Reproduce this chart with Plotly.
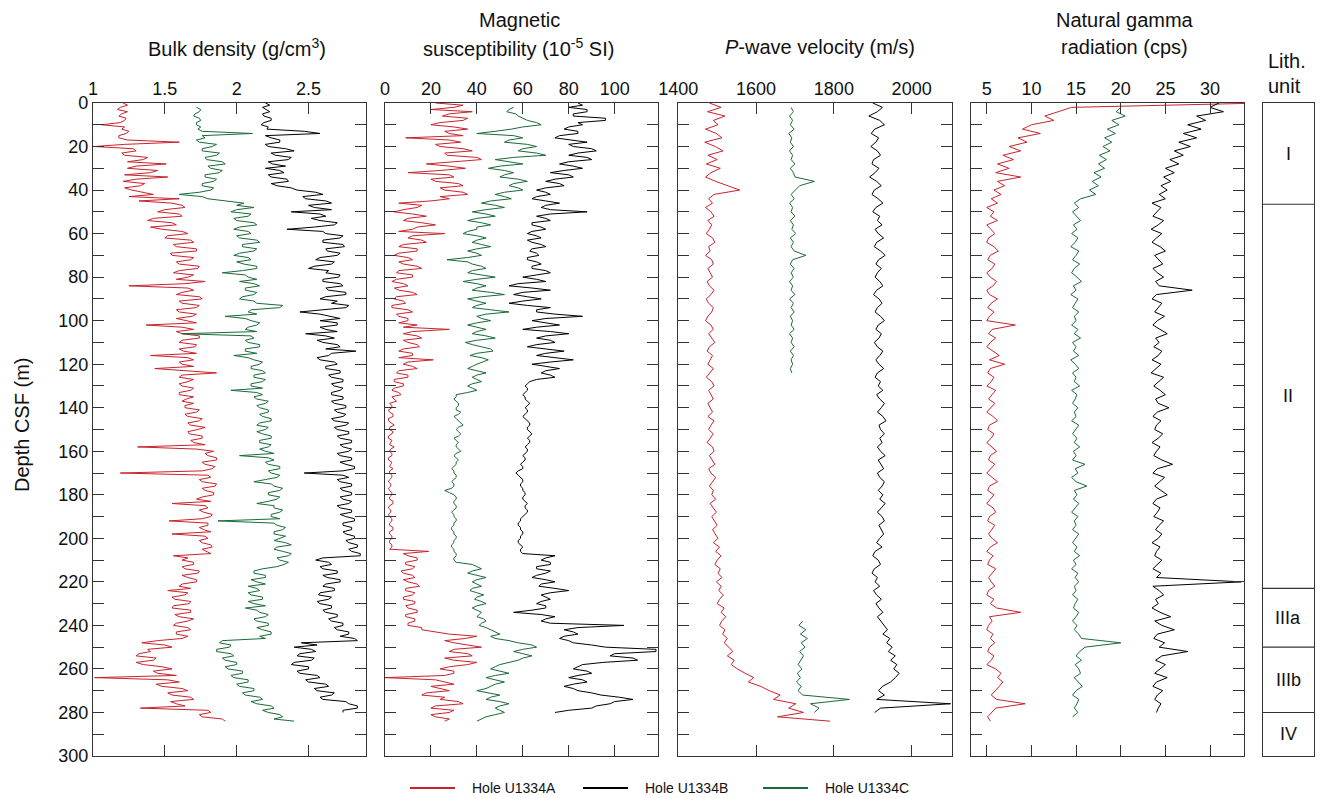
import plotly.graph_objects as go

W, H = 1320, 798

RED, BLACK, GREEN = '#c8232c', '#000000', '#1a6a38'
FONT = 'Liberation Sans, Arial, Helvetica, sans-serif'
AX = '#333333'

# ---------------- Bulk density (g/cm3), sampled every 1 m ----------------
dens_A_start, dens_A_step = 0, 1
dens_A = [1.21,1.24,1.19,1.17,1.24,1.20,1.18,1.23,1.22,1.19,
          1.06,1.22,1.20,1.25,1.23,1.18,1.18,1.24,1.60,1.22,
          1.01,1.28,1.30,1.20,1.22,1.38,1.35,1.24,1.51,1.30,
          1.24,1.45,1.40,1.22,1.52,1.30,1.21,1.36,1.33,1.22,
          1.27,1.36,1.42,1.25,1.60,1.32,1.55,1.62,1.64,1.50,
          1.45,1.60,1.62,1.42,1.38,1.55,1.58,1.40,1.48,1.62,
          1.66,1.52,1.50,1.68,1.70,1.56,1.58,1.72,1.72,1.54,
          1.55,1.70,1.68,1.58,1.60,1.74,1.73,1.60,1.56,1.70,
          1.66,1.58,1.78,1.64,1.25,1.66,1.70,1.62,1.58,1.74,
          1.76,1.60,1.62,1.74,1.72,1.58,1.60,1.72,1.69,1.58,
          1.64,1.72,1.37,1.62,1.70,1.58,1.62,1.74,1.74,1.62,
          1.60,1.72,1.71,1.60,1.63,1.72,1.40,1.66,1.70,1.60,
          1.62,1.70,1.43,1.64,1.86,1.62,1.60,1.70,1.66,1.60,
          1.62,1.70,1.68,1.60,1.60,1.70,1.65,1.62,1.70,1.64,
          1.64,1.74,1.72,1.64,1.66,1.76,1.74,1.66,1.68,1.78,
          1.73,1.66,1.67,1.76,1.76,1.68,1.70,1.78,1.31,1.72,
          1.84,1.78,1.80,1.86,1.86,1.76,1.78,1.85,1.83,1.76,
          1.19,1.80,1.82,1.74,1.76,1.86,1.85,1.76,1.78,1.84,
          1.84,1.76,1.72,1.82,1.55,1.78,1.80,1.74,1.77,1.83,
          1.82,1.76,1.53,1.80,1.80,1.74,1.77,1.82,1.55,1.78,
          1.80,1.74,1.76,1.82,1.83,1.76,1.79,1.82,1.56,1.66,
          1.62,1.70,1.70,1.62,1.64,1.74,1.73,1.62,1.66,1.72,
          1.72,1.62,1.60,1.68,1.52,1.66,1.64,1.55,1.57,1.68,
          1.67,1.56,1.55,1.68,1.68,1.57,1.60,1.70,1.66,1.58,
          1.56,1.66,1.68,1.58,1.58,1.66,1.62,1.45,1.34,1.50,
          1.55,1.38,1.40,1.32,1.30,1.44,1.42,1.30,1.35,1.48,
          1.55,1.42,1.45,1.58,1.01,1.52,1.60,1.44,1.48,1.62,
          1.66,1.52,1.55,1.68,1.70,1.54,1.58,1.64,1.33,1.80,
          1.82,1.74,1.76,1.90,1.92]
dens_B_start, dens_B_step = 0, 1
dens_B = [2.20,2.23,2.18,2.21,2.23,2.18,2.19,2.24,2.24,2.19,
          2.17,2.22,2.21,2.47,2.58,2.20,2.24,2.30,2.30,2.20,
          2.22,2.34,2.40,2.24,2.27,2.38,2.36,2.22,2.25,2.34,
          2.20,2.30,2.33,2.22,2.24,2.35,2.36,2.24,2.28,2.38,
          2.42,2.55,2.60,2.46,2.48,2.62,2.66,2.50,2.54,2.66,
          2.38,2.58,2.62,2.52,2.58,2.70,2.68,2.54,2.35,2.60,
          2.62,2.74,2.72,2.60,2.60,2.74,2.75,2.62,2.63,2.72,
          2.70,2.58,2.55,2.68,2.66,2.54,2.50,2.64,2.62,2.72,
          2.71,2.60,2.60,2.72,2.74,2.62,2.64,2.76,2.76,2.62,
          2.58,2.70,2.66,2.78,2.76,2.60,2.44,2.58,2.64,2.72,
          2.58,2.70,2.70,2.58,2.62,2.70,2.48,2.62,2.68,2.56,
          2.60,2.70,2.72,2.62,2.83,2.66,2.64,2.56,2.58,2.68,
          2.70,2.62,2.62,2.72,2.72,2.64,2.66,2.74,2.74,2.66,
          2.68,2.74,2.72,2.66,2.66,2.74,2.74,2.66,2.68,2.76,
          2.76,2.68,2.70,2.76,2.74,2.66,2.68,2.78,2.76,2.68,
          2.70,2.78,2.78,2.70,2.72,2.80,2.80,2.72,2.74,2.80,
          2.78,2.70,2.72,2.80,2.80,2.72,2.76,2.82,2.82,2.74,
          2.47,2.74,2.78,2.70,2.72,2.80,2.80,2.72,2.74,2.80,
          2.80,2.72,2.74,2.80,2.78,2.70,2.72,2.80,2.80,2.72,
          2.76,2.82,2.82,2.74,2.74,2.80,2.80,2.74,2.76,2.82,
          2.82,2.76,2.78,2.84,2.84,2.78,2.80,2.86,2.86,2.60,
          2.55,2.64,2.66,2.58,2.60,2.70,2.70,2.60,2.63,2.72,
          2.72,2.62,2.60,2.68,2.68,2.58,2.57,2.66,2.64,2.56,
          2.58,2.66,2.66,2.60,2.62,2.70,2.70,2.64,2.66,2.74,
          2.74,2.68,2.70,2.78,2.78,2.72,2.82,2.84,2.45,2.56,
          2.40,2.52,2.55,2.44,2.42,2.54,2.52,2.40,2.38,2.50,
          2.50,2.42,2.44,2.56,2.58,2.48,2.50,2.62,2.64,2.54,
          2.56,2.68,2.66,2.58,2.60,2.76,2.78,2.84,2.84,2.74,
          2.74]
dens_C_start, dens_C_step = 2, 1
dens_C = [1.72,1.75,1.74,1.71,1.70,1.74,1.75,1.72,1.72,1.75,
          1.73,1.76,2.11,1.76,1.78,1.72,1.74,1.86,1.83,1.76,
          1.76,1.88,1.86,1.78,1.79,1.90,1.92,1.80,1.82,1.90,
          1.88,1.78,1.78,1.86,1.84,1.76,1.76,1.84,1.82,1.74,
          1.60,1.76,1.80,1.95,2.05,2.00,2.12,2.00,1.96,2.10,
          2.08,1.98,2.00,2.12,2.14,2.02,1.98,2.08,2.10,2.00,
          2.02,2.14,2.16,2.04,2.04,2.14,2.12,2.02,1.98,2.08,
          2.10,2.00,2.05,2.14,2.14,2.04,1.90,2.06,2.08,2.14,
          2.02,2.12,2.16,2.06,2.06,2.14,2.12,2.04,2.02,2.12,
          2.14,2.32,2.30,2.10,2.08,2.14,1.92,2.06,2.10,2.16,
          2.14,2.08,2.06,2.14,1.62,2.10,2.12,2.06,2.08,2.16,
          2.16,2.06,2.06,2.14,1.98,2.08,2.12,2.18,2.16,2.10,
          2.10,2.18,2.20,2.12,2.12,2.20,2.18,2.10,2.10,2.18,
          1.96,2.14,2.18,2.12,2.14,2.22,2.20,2.14,2.16,2.22,
          2.22,2.16,2.18,2.24,2.24,2.16,2.14,2.22,2.20,2.14,
          2.18,2.24,2.24,2.16,2.16,2.24,2.22,2.16,2.20,2.26,
          2.02,2.22,2.26,2.20,2.22,2.30,2.30,2.22,2.24,2.30,
          2.28,2.20,2.12,2.24,2.26,2.32,2.30,2.22,2.22,2.30,
          2.28,2.22,2.14,2.26,2.26,2.32,2.30,2.24,2.24,2.30,
          1.87,2.26,2.28,2.34,2.32,2.26,2.26,2.34,2.30,2.26,
          2.34,2.38,2.28,2.26,2.32,2.38,2.36,2.28,2.30,2.36,
          2.33,2.28,2.18,2.12,2.12,2.20,2.20,2.10,2.14,2.20,
          2.08,2.14,2.16,2.08,2.10,2.18,2.18,2.08,2.12,2.20,
          2.06,2.14,2.16,2.22,2.20,2.12,2.14,2.22,2.22,2.14,
          2.18,2.24,2.24,2.16,2.20,1.90,1.88,1.96,1.95,1.86,
          1.86,1.96,1.98,1.90,1.92,2.00,2.00,1.92,1.94,2.04,
          2.04,1.96,1.98,2.08,2.08,2.00,2.02,2.12,2.12,2.04,
          2.06,2.16,2.18,2.10,2.14,2.24,2.26,2.18,2.22,2.30,
          2.32,2.26,2.40]

# ---------------- Magnetic susceptibility (1e-5 SI), every 1 m ----------------
ms_A_start, ms_A_step = 0, 1
ms_A = [22,34,30,20,38,28,25,36,34,24,
        20,30,36,26,28,34,9,28,33,22,
        24,34,38,26,27,40,42,30,18,28,
        35,24,10,28,30,20,22,32,34,24,
        26,34,36,24,28,20,6,16,14,8,
        4,12,18,10,8,16,22,14,12,6,
        26,12,10,16,18,8,6,14,14,6,
        4,10,12,6,8,14,16,6,5,12,
        12,5,3,8,10,4,6,12,14,5,
        4,8,9,3,3,10,12,5,6,10,
        10,6,14,8,28,12,8,14,16,8,
        10,14,15,8,6,12,12,6,21,10,
        8,12,14,6,5,10,10,4,4,8,
        8,4,3,6,7,3,4,5,2,3,
        3,1.5,2,3.5,3.5,1.5,1.5,3,4,2,
        2,3.5,3,1.5,1.5,3,2.5,2,4,2.5,
        2,3,3,1.5,1.5,3,2.5,2,3.5,2,
        2,3,3,2,1.5,2.5,2.5,1.5,2,3,
        3,2,2,3.5,3.5,2,1.5,2.5,2.5,1.5,
        2,3,3,2,2,3.5,3.5,2,2,3,
        3,2,2,3,3,2,19,8,10,14,
        14,9,9,13,12,7,8,12,13,8,
        10,14,15,9,9,13,12,8,8,13,
        13,9,10,14,14,9,9,13,13,10,
        10,16,16,22,28,40,35,26,30,36,
        42,30,28,36,38,26,30,40,36,28,
        24,30,30,26,0,22,26,30,20,24,
        28,18,16,26,24,32,34,22,20,30,
        28,20,22,28,26]
ms_B_start, ms_B_step = 0, 1
ms_B = [84,86,80,88,88,82,82,96,96,84,
        86,80,78,84,84,76,74,82,88,80,
        82,90,92,84,80,88,90,80,76,82,
        86,78,72,80,82,74,70,76,78,70,
        66,70,72,66,64,70,76,70,68,72,
        88,72,66,70,72,64,64,68,70,64,
        62,66,68,62,64,68,70,64,63,66,
        67,62,62,66,68,64,64,70,72,66,
        60,66,70,58,54,64,72,60,56,62,
        68,60,54,62,72,66,66,74,86,70,
        64,70,76,66,60,72,80,70,66,72,
        74,66,62,70,78,70,66,74,82,72,
        64,70,76,70,68,72,74,66,63,62,
        61,62,62,61,60,61,61,62,63,62,
        61,62,62,61,60,61,62,63,63,62,
        62,63,64,63,62,63,63,62,61,62,
        62,61,60,61,61,60,59,60,60,58,
        57,58,59,60,60,59,59,60,60,61,
        61,60,60,61,62,61,61,62,62,61,
        60,59,59,58,58,59,59,60,60,59,
        59,58,58,59,60,59,59,60,74,70,
        68,72,72,66,66,72,70,66,64,70,
        74,68,67,74,80,72,68,70,72,68,
        66,70,70,64,56,68,74,70,68,72,
        104,84,78,82,84,78,76,80,82,90,
        96,118,118,100,98,108,110,95,86,84,
        82,88,90,84,80,86,88,82,78,82,
        84,90,94,102,108,100,98,92,90,80,
        74]
ms_C_start, ms_C_step = 2, 1
ms_C = [56,54,53,57,58,60,62,66,68,60,
        55,48,40,56,60,54,52,62,66,60,
        58,66,70,56,48,54,60,50,45,52,
        56,52,50,58,62,56,54,58,60,52,
        48,52,55,46,42,48,52,44,38,44,
        48,40,36,42,46,40,40,36,34,40,
        44,40,38,42,46,40,36,40,42,36,
        27,36,38,42,44,38,36,42,48,40,
        34,40,44,40,38,46,52,42,36,40,
        44,40,38,46,54,44,40,42,46,40,
        36,40,44,40,38,44,48,40,35,38,
        42,46,47,40,37,42,45,42,40,38,
        36,40,44,40,38,40,42,38,36,38,
        40,36,31,31,30,31,32,32,31,31,
        33,32,30,31,32,33,34,32,31,32,
        33,32,30,31,32,31,31,32,33,31,
        30,31,32,31,31,30,29,30,30,31,
        31,30,29,30,30,29,26,28,30,31,
        31,30,30,31,31,30,29,30,30,31,
        31,30,30,29,29,30,30,31,31,30,
        30,29,29,30,30,31,31,30,30,31,
        38,40,42,38,36,40,44,40,38,40,
        42,38,37,40,43,40,39,42,44,40,
        38,40,42,41,40,43,44,42,41,44,
        46,48,50,46,48,54,58,64,66,60,
        56,60,64,60,58,54,50,48,46,50,
        54,48,44,48,52,48,46,44,40,46,
        50,46,44,50,54,50,48,50,52,48,
        44,42,40]

# ---------------- P-wave velocity (m/s), every 2 m ----------------
pw_A_start, pw_A_step = 0, 2
pw_A = [1480,1510,1475,1520,1490,1502,1470,1498,1512,1468,
        1495,1515,1476,1500,1472,1508,1484,1470,1496,1528,
        1558,1492,1478,1488,1470,1484,1492,1476,1486,1480,
        1472,1488,1494,1478,1482,1470,1486,1490,1476,1482,
        1488,1474,1480,1492,1484,1472,1478,1490,1486,1476,
        1470,1484,1490,1478,1486,1494,1480,1474,1488,1482,
        1476,1490,1482,1472,1486,1492,1478,1484,1490,1476,
        1482,1488,1476,1492,1484,1478,1490,1482,1474,1488,
        1492,1480,1486,1494,1478,1484,1496,1488,1480,1490,
        1486,1496,1482,1490,1498,1486,1492,1500,1488,1494,
        1502,1490,1506,1496,1510,1500,1494,1508,1502,1512,
        1498,1510,1504,1516,1506,1500,1518,1510,1522,1512,
        1506,1520,1514,1526,1518,1530,1540,1526,1544,1536,
        1552,1572,1594,1580,1612,1634,1662,1645,1702,1684,
        1722,1655,1790]
pw_B_start, pw_B_step = 0, 2
pw_B = [1900,1925,1912,1890,1918,1930,1905,1896,1915,1908,
        1895,1912,1920,1902,1898,1916,1906,1892,1910,1922,
        1904,1898,1914,1926,1908,1900,1918,1912,1924,1906,
        1914,1928,1910,1904,1920,1932,1915,1908,1922,1912,
        1906,1918,1926,1910,1902,1916,1924,1912,1906,1920,
        1930,1914,1908,1922,1916,1904,1912,1926,1918,1908,
        1916,1928,1912,1906,1920,1914,1926,1910,1918,1930,
        1922,1912,1926,1934,1916,1920,1930,1918,1924,1912,
        1920,1932,1914,1922,1928,1912,1918,1930,1924,1914,
        1926,1918,1932,1922,1912,1924,1930,1916,1922,1928,
        1918,1910,1924,1906,1900,1914,1920,1904,1898,1912,
        1906,1918,1902,1910,1922,1908,1916,1926,1912,1920,
        1930,1938,1926,1944,1936,1950,1940,1958,1946,1962,
        1954,1968,1958,1946,1925,1915,1930,1910,2100,1920,
        1905]
pw_C_start, pw_C_step = 2, 2
pw_C = [1690,1696,1686,1694,1688,1698,1684,1692,1688,1696,
        1686,1694,1690,1700,1688,1696,1700,1750,1712,1700,
        1690,1698,1686,1694,1690,1700,1688,1696,1692,1702,
        1688,1696,1690,1698,1728,1694,1688,1698,1690,1696,
        1686,1694,1690,1700,1686,1696,1690,1698,1688,1694,
        1690,1698,1686,1694,1690,1698,1688,1696,1690,1694,
        1688,1692] + [None]*56 + [
        1720,1710,1728,1714,1732,1716,1726,1712,1722,1716,
        1708,1718,1706,1714,1704,1716,1708,1720,1840,1740,
        1762,1750]

# ---------------- Natural gamma radiation (cps), every 2 m ----------------
ng_A_start, ng_A_step = 0, 2
ng_A = [36,14.5,13.0,11.5,12.5,10.0,9.0,11.0,8.5,9.5,
        7.5,8.8,6.8,8.0,6.2,7.5,6.0,8.8,6.2,7.0,
        5.8,6.6,5.5,6.2,5.0,5.8,5.4,6.2,5.0,5.5,
        5.9,5.2,5.0,5.8,6.3,5.4,5.1,5.9,5.6,5.0,
        5.4,6.1,5.7,5.0,5.3,6.2,5.5,5.1,5.8,5.3,
        5.0,8.2,5.6,5.2,6.0,5.4,5.0,5.7,6.4,5.3,
        7.0,5.4,5.1,5.8,5.5,5.0,6.0,5.6,5.2,5.9,
        5.4,5.0,5.7,6.2,5.3,5.1,5.8,5.5,5.0,5.6,
        6.1,5.4,5.2,5.9,5.5,5.0,5.6,6.2,5.3,5.1,
        5.8,5.4,5.0,5.7,6.0,5.3,5.1,5.9,5.5,5.2,
        5.6,6.2,5.4,5.0,5.7,5.3,5.1,6.0,5.6,5.2,
        5.5,5.9,5.2,5.0,5.8,5.4,6.1,8.8,5.3,5.6,
        5.2,5.0,5.7,5.4,5.9,5.3,5.1,5.8,5.5,5.0,
        6.0,6.6,6.2,6.8,6.4,5.9,5.5,6.1,9.3,6.0,
        5.6,5.1,5.4]
ng_B_start, ng_B_step = 0, 2
ng_B = [31.0,30.0,31.5,28.5,29.5,27.5,29.0,27.0,28.5,26.5,
        27.8,26.0,27.0,25.5,26.5,25.0,26.0,24.8,25.6,24.5,
        25.2,24.3,25.0,23.5,24.5,24.0,23.6,24.8,24.2,23.4,
        24.6,24.0,23.5,24.4,25.0,23.8,24.2,24.7,23.6,24.1,
        24.8,23.9,24.3,28.0,24.0,23.5,24.6,24.2,23.8,24.9,
        24.1,23.6,24.4,25.2,23.9,24.3,23.7,24.6,24.2,23.5,
        24.5,24.0,23.4,24.8,24.2,23.7,24.4,25.0,23.9,24.2,
        25.4,24.1,23.6,24.5,24.0,23.8,24.7,24.2,23.5,24.4,
        24.0,23.7,24.6,25.8,24.1,23.6,24.9,24.3,23.8,24.5,
        25.2,24.0,23.6,24.4,24.1,23.7,24.8,24.3,23.9,24.6,
        24.2,23.5,24.4,24.0,23.8,24.6,24.1,23.6,24.5,24.0,
        33.5,23.6,24.3,24.8,23.9,24.2,23.5,24.4,25.6,23.8,
        24.6,26.0,24.1,23.7,24.9,24.3,27.5,24.6,23.9,25.0,
        24.4,23.8,25.2,24.0,23.6,24.7,24.1,23.8,24.5,24.2,
        24.0]
ng_C_start, ng_C_step = 2, 2
ng_C = [20.0,19.5,20.5,19.0,19.8,18.5,19.4,18.2,19.0,18.0,
        18.8,17.6,18.4,17.5,18.2,17.0,17.8,16.8,17.5,16.5,
        17.2,15.5,14.8,15.3,14.6,15.0,15.5,14.7,15.1,14.5,
        15.2,14.9,14.4,15.3,15.0,14.6,15.4,14.8,14.5,15.1,
        15.6,14.7,15.0,14.4,15.2,14.9,14.6,15.3,14.8,15.0,
        14.5,15.2,14.8,15.5,14.6,15.0,14.7,15.3,14.4,14.9,
        15.3,14.6,15.0,14.8,15.4,14.5,15.1,14.9,14.6,15.2,
        14.8,15.0,14.5,15.3,14.9,14.6,15.1,14.8,15.4,14.7,
        15.0,14.6,16.0,14.9,15.2,14.5,15.0,16.2,14.8,15.1,
        14.7,15.3,14.9,14.5,15.2,14.8,15.0,14.6,15.3,14.9,
        14.6,15.1,14.8,15.4,14.7,15.0,14.5,15.2,14.9,15.3,
        14.8,15.0,14.6,15.2,14.9,14.7,15.3,15.0,14.6,15.1,
        14.8,15.3,15.6,20.0,16.0,15.4,15.0,15.6,14.9,15.3,
        15.5,14.8,15.2,15.7,15.0,14.6,15.3,15.1,14.8,15.2,
        14.6]

# ---------------- Lithologic units ----------------
unit_names = ['I', 'II', 'IIIa', 'IIIb', 'IV']
unit_tops = [0, 46.5, 223, 250, 280]
unit_bases = [46.5, 223, 250, 280, 300]

legend_names = ['Hole U1334A', 'Hole U1334B', 'Hole U1334C']
legend_colors = [RED, BLACK, GREEN]


def depths(start, step, vals):
    return [start + step * i for i in range(len(vals))]


def px(x):
    return x / W


def py(y):
    return 1 - y / H


Y_TOP, Y_BOT = 103, 756
ydom = [py(Y_BOT), py(Y_TOP)]

panels = [
    dict(x0=93, x1=366, rng=[1, 2.9], tv=[1, 1.5, 2, 2.5], tt=['1', '1.5', '2', '2.5'],
         series=[(dens_A_start, dens_A_step, dens_A, RED), (dens_C_start, dens_C_step, dens_C, GREEN),
                 (dens_B_start, dens_B_step, dens_B, BLACK)]),
    dict(x0=385, x1=658.3, rng=[0, 119], tv=[0, 20, 40, 60, 80, 100], tt=['0', '20', '40', '60', '80', '100'],
         series=[(ms_A_start, ms_A_step, ms_A, RED), (ms_C_start, ms_C_step, ms_C, GREEN),
                 (ms_B_start, ms_B_step, ms_B, BLACK)]),
    dict(x0=678.3, x1=951.7, rng=[1400, 2103], tv=[1400, 1600, 1800, 2000], tt=['1400', '1600', '1800', '2000'],
         series=[(pw_A_start, pw_A_step, pw_A, RED), (pw_C_start, pw_C_step, pw_C, GREEN),
                 (pw_B_start, pw_B_step, pw_B, BLACK)]),
    dict(x0=970.7, x1=1244, rng=[3.2, 33.8], tv=[5, 10, 15, 20, 25, 30], tt=['5', '10', '15', '20', '25', '30'],
         series=[(ng_A_start, ng_A_step, ng_A, RED), (ng_C_start, ng_C_step, ng_C, GREEN),
                 (ng_B_start, ng_B_step, ng_B, BLACK)]),
    dict(x0=1262.5, x1=1314, rng=[0, 1], tv=[], tt=[], series=[]),
]

fig = go.Figure()
ytv = list(range(0, 301, 20))
ytt = [str(v) for v in ytv]

for i, p in enumerate(panels, start=1):
    xa = 'x' if i == 1 else f'x{i}'
    ya = 'y' if i == 1 else f'y{i}'
    for start, step, vals, col in p['series']:
        fig.add_trace(go.Scatter(x=vals, y=depths(start, step, vals), mode='lines',
                                 line=dict(color=col, width=1.0), xaxis=xa, yaxis=ya,
                                 showlegend=False, hoverinfo='skip', connectgaps=False))
    lith = (i == 5)
    fig.update_layout(**{
        f'xaxis{i if i > 1 else ""}': dict(
            domain=[px(p['x0']), px(p['x1'])], anchor=ya, side='top', range=p['rng'],
            automargin=False,
            showline=True, linecolor=AX, linewidth=1.3, mirror='allticks' if not lith else True,
            ticks='' if lith else 'inside', ticklen=11, tickwidth=1.3, tickcolor=AX,
            tickvals=p['tv'], ticktext=p['tt'], showticklabels=not lith,
            tickfont=dict(family=FONT, size=18, color='#111'),
            showgrid=False, zeroline=False, fixedrange=True),
        f'yaxis{i if i > 1 else ""}': dict(
            domain=ydom, anchor=xa, range=[300, 0], automargin=False,
            showline=True, linecolor=AX, linewidth=1.3, mirror='allticks' if not lith else True,
            ticks='' if lith else 'inside', ticklen=11, tickwidth=1.3, tickcolor=AX,
            tickvals=ytv, ticktext=ytt, showticklabels=(i == 1),
            minor=dict(tickvals=list(range(10, 300, 20)), ticks='' if lith else 'inside',
                       ticklen=11, tickwidth=1.3, tickcolor=AX, showgrid=False),
            tickfont=dict(family=FONT, size=18, color='#111'),
            showgrid=False, zeroline=False, fixedrange=True),
    })

shapes = []
annotations = []
# lithologic unit boundaries and labels
for top, base, name in zip(unit_tops, unit_bases, unit_names):
    if top > 0:
        shapes.append(dict(type='line', xref='x5', yref='y5', x0=0, x1=1, y0=top, y1=top,
                           line=dict(color=AX, width=1.1)))
    annotations.append(dict(x=0.5, y=(top + base) / 2, xref='x5', yref='y5', text=name,
                            showarrow=False, font=dict(family=FONT, size=18, color='#111')))

# titles
titles = [
    (237, 47, 'Bulk density (g/cm<sup>3</sup>)'),
    (519, 20, 'Magnetic'),
    (518, 47, 'susceptibility (10<sup>-5</sup> SI)'),
    (820, 47, '<i>P</i>-wave velocity (m/s)'),
    (1125, 20, 'Natural gamma'),
    (1124, 47, 'radiation (cps)'),
]
for x, y, t in titles:
    annotations.append(dict(x=px(x), y=py(y), xref='paper', yref='paper', text=t, showarrow=False,
                            xanchor='center', yanchor='middle',
                            font=dict(family=FONT, size=20, color='#111')))
annotations.append(dict(x=px(1266), y=py(61), xref='paper', yref='paper', text='Lith.', showarrow=False,
                        xanchor='left', yanchor='middle', font=dict(family=FONT, size=20, color='#111')))
annotations.append(dict(x=px(1266), y=py(86), xref='paper', yref='paper', text='unit', showarrow=False,
                        xanchor='left', yanchor='middle', font=dict(family=FONT, size=20, color='#111')))
annotations.append(dict(x=px(22), y=py(425), xref='paper', yref='paper', text='Depth CSF (m)', showarrow=False,
                        textangle=-90, xanchor='center', yanchor='middle',
                        font=dict(family=FONT, size=20, color='#111')))

# legend (drawn)
leg = [(410, 455, 470), (583, 628, 643), (763, 808, 823)]
for (l0, l1, tx), name, col in zip(leg, legend_names, legend_colors):
    shapes.append(dict(type='line', xref='paper', yref='paper', x0=px(l0), x1=px(l1), y0=py(788), y1=py(788),
                       line=dict(color=col, width=2)))
    annotations.append(dict(x=px(tx), y=py(788), xref='paper', yref='paper', text=name, showarrow=False,
                            xanchor='left', yanchor='middle', font=dict(family=FONT, size=14, color='#111')))

fig.update_layout(width=W, height=H, autosize=False, margin=dict(l=0, r=0, t=0, b=0, autoexpand=False),
                  paper_bgcolor='white', plot_bgcolor='white', shapes=shapes, annotations=annotations,
                  showlegend=False)

fig.write_html('out.html', config={'displayModeBar': False},
               post_script="document.body.style.margin='0';")
